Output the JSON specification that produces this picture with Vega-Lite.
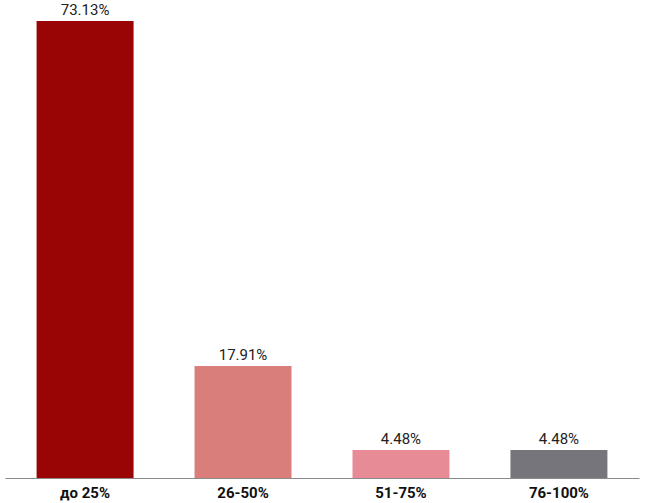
{
  "$schema": "https://vega.github.io/schema/vega-lite/v6.json",
  "width": 634,
  "height": 457,
  "autosize": {"type": "none"},
  "padding": {"top": 21, "left": 5, "right": 6, "bottom": 25},
  "background": "white",
  "config": {"view": {"stroke": null}, "font": "Roboto"},
  "data": {"values": [
    {"cat": "до 25%", "value": 73.13, "label": "73.13%", "color": "#990404"},
    {"cat": "26-50%", "value": 17.91, "label": "17.91%", "color": "#d97e7b"},
    {"cat": "51-75%", "value": 4.48, "label": "4.48%", "color": "#e78b97"},
    {"cat": "76-100%", "value": 4.48, "label": "4.48%", "color": "#76757b"}
  ]},
  "encoding": {
    "x": {"field": "cat", "type": "nominal", "sort": null,
      "scale": {"paddingInner": 0.386, "paddingOuter": 0.2},
      "axis": {"title": null, "labelAngle": 0, "labelFontSize": 15, "labelFontWeight": "bold", "labelColor": "#111", "labelFont": "Roboto", "ticks": false, "domainColor": "#8a8a8a", "domainWidth": 1.2, "labelPadding": 7}},
    "y": {"field": "value", "type": "quantitative", "scale": {"domain": [0, 73.13], "nice": false}, "axis": null}
  },
  "layer": [
    {"mark": {"type": "bar"}, "encoding": {"color": {"field": "color", "type": "nominal", "scale": null}}},
    {"mark": {"type": "text", "dy": -3, "baseline": "bottom", "fontSize": 15, "color": "#222", "font": "Roboto"}, "encoding": {"text": {"field": "label"}}}
  ]
}
